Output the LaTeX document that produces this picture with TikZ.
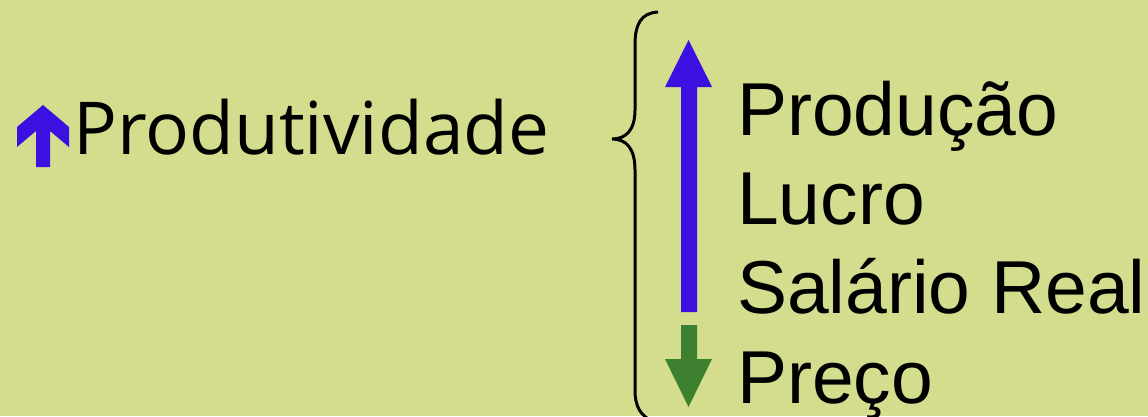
\documentclass[tikz,border=0pt]{standalone}
\usepackage{fontspec}
\setmainfont{Liberation Sans}
\newfontfamily\opensans{Open Sans}
\definecolor{bgcol}{RGB}{212,221,142}
\definecolor{upblue}{RGB}{59,16,224}
\definecolor{downgreen}{RGB}{61,128,48}
\tikzstyle{lineitem} = [anchor=base west, inner sep=0pt, font=\fontsize{75}{90}\selectfont]
\tikzstyle{cause} = [anchor=base west, inner sep=0pt, font=\opensans\fontsize{73}{88}\selectfont]
\tikzstyle{uparrow} = [fill=upblue]
\tikzstyle{downarrow} = [fill=downgreen]
\tikzstyle{bracket} = [draw, line width=3pt]

\begin{document}
\begin{tikzpicture}[x=1pt,y=-1pt]
    % background and fixed frame
    \fill[bgcol] (0,0) rectangle (1148,416);
    \useasboundingbox (0,0) rectangle (1148,416);

    % the cause on the left
    \fill[uparrow] (43,105) -- (69,127) -- (69,147) -- (50,131) -- (50,167)
        -- (36,167) -- (36,131) -- (17,147) -- (17,127) -- cycle;
    \node[cause] (produtividade) at (73,154) {Produtividade};

    % the brace
    \draw[bracket] (658,12) .. controls (641,13) and (635,24) .. (635,45) -- (635,110)
        .. controls (635,130) and (626,139) .. (612,139)
        .. controls (626,139) and (635,148) .. (635,170) -- (635,390)
        .. controls (635,406) and (640,416) .. (654,422);

    % effects, one per line
    \node[lineitem] (producao) at (737,135) {Produção};
    \node[lineitem] (lucro) at (737,224) {Lucro};
    \node[lineitem] (salario) at (737,313) {Salário Real};
    \node[lineitem] (preco) at (737,403) {Preço};

    % what rises and what falls
    \fill[uparrow] (688.5,40) -- (712,87) -- (697,87) -- (697,312)
        -- (681,312) -- (681,87) -- (665,87) -- cycle;
    \fill[downarrow] (681,325) -- (697,325) -- (697,359) -- (712,359)
        -- (688.5,407) -- (665,359) -- (681,359) -- cycle;
\end{tikzpicture}
\end{document}
